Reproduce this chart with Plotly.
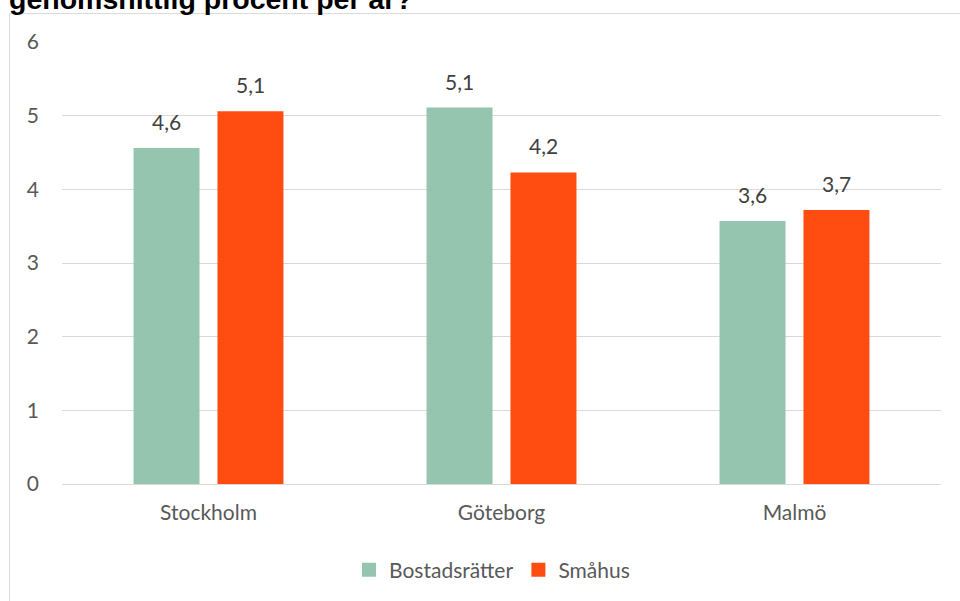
import plotly.graph_objects as go

categories = ["Stockholm", "Göteborg", "Malmö"]
bostadsratter = [4.56, 5.11, 3.57]
smahus = [5.06, 4.23, 3.72]
series_names = ["Bostadsrätter", "Småhus"]
title_text = "genomsnittlig procent per år?"
y_ticks = [0, 1, 2, 3, 4, 5, 6]

W, H = 960, 601
L, R, T, B = 62, 19, 42, 116
pw, ph = W - L - R, H - T - B

def px_x(x):
    return (x - L) / pw

def px_y(y):
    return (H - B - y) / ph

green = "#95C4AF"
orange = "#FF4D12"
font_family = "Lato"

fig = go.Figure()
for vals, name, col in ((bostadsratter, series_names[0], green), (smahus, series_names[1], orange)):
    fig.add_trace(go.Bar(x=categories, y=vals, name=name, showlegend=False, legendgroup=name,
                         marker=dict(color=col, line=dict(width=0))))
for name, col in ((series_names[0], green), (series_names[1], orange)):
    fig.add_trace(go.Scatter(x=[None], y=[None], mode="markers", name=name, legendgroup=name,
                             marker=dict(symbol="square", size=14, color=col, line=dict(width=0))))

annotations = []
for vals, shift in ((bostadsratter, -42), (smahus, 42)):
    for c, v in zip(categories, vals):
        annotations.append(dict(
            x=c, y=v, xref="x", yref="y", text=f"{v:.1f}".replace(".", ","),
            showarrow=False, yanchor="bottom", xshift=shift, yshift=12,
            font=dict(family=font_family, size=21, color="#404040")))

annotations.append(dict(
    x=px_x(7), y=px_y(-1), xref="paper", yref="paper", xanchor="left", yanchor="middle",
    text="<b>" + title_text + "</b>", showarrow=False,
    font=dict(family="Liberation Sans", size=28.5, color="#000000")))

fig.update_layout(
    width=W, height=H,
    margin=dict(l=L, r=R, t=T, b=B, pad=0),
    paper_bgcolor="white", plot_bgcolor="white",
    barmode="group", bargap=0.427, bargroupgap=0.214,
    font=dict(family=font_family, size=21, color="#595959"),
    showlegend=True,
    legend=dict(orientation="h", x=px_x(492), xanchor="center", y=px_y(570), yanchor="middle",
                font=dict(family=font_family, size=21, color="#595959"),
                itemwidth=30, traceorder="normal"),
    annotations=annotations,
    shapes=[dict(type="rect", xref="paper", yref="paper",
                 x0=px_x(9.5), x1=px_x(975), y0=px_y(620), y1=px_y(13.5),
                 line=dict(color="#D9D9D9", width=1), fillcolor="rgba(0,0,0,0)", layer="below")],
)
fig.update_xaxes(showgrid=False, showline=False, ticks="", ticklabelstandoff=14,
                 tickfont=dict(family=font_family, size=21, color="#595959"))
fig.update_yaxes(range=[0, 6], tickvals=y_ticks, showgrid=True, gridcolor="#D9D9D9", gridwidth=1,
                 zeroline=True, zerolinecolor="#D9D9D9", zerolinewidth=1,
                 showline=False, ticks="", ticklabelstandoff=22,
                 tickfont=dict(family=font_family, size=21, color="#595959"))

fig.write_html("out.html")
